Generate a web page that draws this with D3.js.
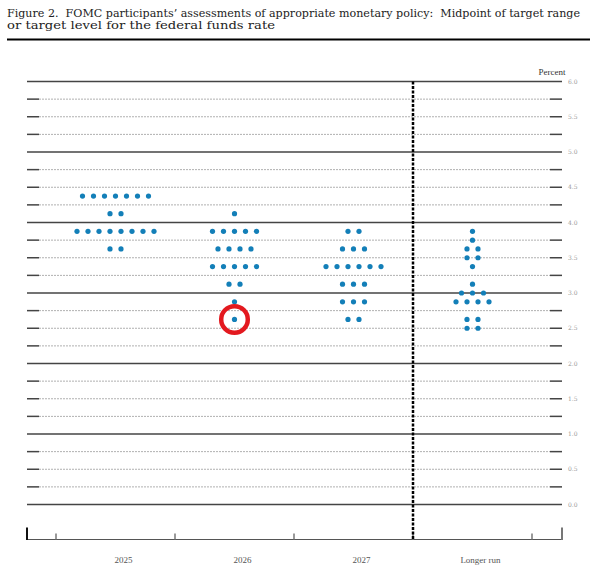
<!DOCTYPE html>
<html>
<head>
<meta charset="utf-8">
<script src="https://cdn.jsdelivr.net/npm/d3@7"></script>
<style>
  body { margin: 0; background: #fff; }
  svg { display: block; }
</style>
</head>
<body>
<div id="chart"></div>
<script>
// Data
const periods = ["2025", "2026", "2027", "Longer run"];
// [midpoint, number of participants]
const dots2025 = [[4.375, 7], [4.125, 2], [3.875, 8], [3.625, 2]];
const dots2026 = [[4.125, 1], [3.875, 5], [3.625, 4], [3.375, 5], [3.125, 2], [2.875, 1], [2.625, 1]];
const dots2027 = [[3.875, 2], [3.625, 3], [3.375, 6], [3.125, 3], [2.875, 3], [2.625, 2]];
const dotsLonger = [[3.875, 1], [3.75, 1], [3.625, 2], [3.5, 2], [3.375, 1], [3.125, 1], [3.0, 3], [2.875, 4], [2.625, 2], [2.5, 2]];
const yTicks = d3.range(0, 6.001, 0.25);
const yLabels = d3.range(0, 6.001, 0.5);
const highlight = { period: "2026", rate: 2.625 };

const titleLines = [
  "Figure 2.  FOMC participants\u2019 assessments of appropriate monetary policy:  Midpoint of target range",
  "or target level for the federal funds rate"
];

const width = 591, height = 580;
const plotLeft = 27, plotRight = 562;
const axisY = 539.5;
const dotGap = 11;

const svg = d3.select("#chart")
  .append("svg")
  .attr("width", width)
  .attr("height", height);

// Title
svg.append("text")
  .attr("x", 7).attr("y", 17)
  .attr("textLength", 573).attr("lengthAdjust", "spacingAndGlyphs")
  .style("font-family", "'DejaVu Serif', serif")
  .style("font-size", "11px")
  .style("white-space", "pre")
  .style("fill", "#222")
  .text(titleLines[0]);
svg.append("text")
  .attr("x", 7).attr("y", 28.5)
  .attr("textLength", 268).attr("lengthAdjust", "spacingAndGlyphs")
  .style("font-family", "'DejaVu Serif', serif")
  .style("font-size", "11px")
  .style("fill", "#222")
  .text(titleLines[1]);

svg.append("line")
  .attr("x1", 7).attr("x2", 590)
  .attr("y1", 39.5).attr("y2", 39.5)
  .style("stroke", "#000")
  .style("stroke-width", 2);

// Scales
const x = d3.scaleBand().domain(periods).range([56, 532]);
const y = d3.scaleLinear().domain([0, 6]).range([504.5, 81.5]);

// Grid
const grid = svg.append("g");
yTicks.forEach(function(v) {
  const yy = y(v);
  const whole = Math.abs(v - Math.round(v)) < 1e-9;
  if (whole) {
    grid.append("line")
      .attr("x1", plotLeft).attr("x2", plotRight)
      .attr("y1", yy).attr("y2", yy)
      .style("stroke", "#444")
      .style("stroke-width", 1.5);
  } else {
    grid.append("line")
      .attr("x1", plotLeft + 12).attr("x2", plotRight - 12)
      .attr("y1", yy).attr("y2", yy)
      .style("stroke", "#b0b0b0")
      .style("stroke-width", 1)
      .style("stroke-dasharray", "2,1");
    [[plotLeft, plotLeft + 12], [plotRight - 12, plotRight]].forEach(function(seg) {
      grid.append("line")
        .attr("x1", seg[0]).attr("x2", seg[1])
        .attr("y1", yy).attr("y2", yy)
        .style("stroke", "#444")
        .style("stroke-width", 1.5);
    });
  }
});

// Right labels
svg.append("g")
  .selectAll("text")
  .data(yLabels)
  .enter()
  .append("text")
  .attr("x", 568)
  .attr("y", function(d) { return y(d); })
  .attr("dy", "0.35em")
  .style("font-family", "'DejaVu Serif', serif")
  .style("font-size", "6px")
  .style("fill", "#999")
  .text(function(d) { return d.toFixed(1); });

svg.append("text")
  .attr("x", 552).attr("y", 75)
  .attr("text-anchor", "middle")
  .style("font-family", "'Liberation Serif', serif")
  .style("font-size", "9px")
  .style("fill", "#333")
  .text("Percent");

// Bottom axis
const axis = svg.append("g");
axis.append("line")
  .attr("x1", plotLeft).attr("x2", plotRight)
  .attr("y1", axisY).attr("y2", axisY)
  .style("stroke", "#555")
  .style("stroke-width", 1.2);
axis.append("line")
  .attr("x1", plotLeft).attr("x2", plotLeft)
  .attr("y1", axisY - 12).attr("y2", axisY + 0.5)
  .style("stroke", "#111")
  .style("stroke-width", 2);
axis.append("line")
  .attr("x1", plotRight).attr("x2", plotRight)
  .attr("y1", axisY - 12).attr("y2", axisY + 0.5)
  .style("stroke", "#777")
  .style("stroke-width", 2);

const boundaries = periods.map(function(p) { return x(p); }).concat([x.range()[1]]);
axis.selectAll(".tick")
  .data(boundaries)
  .enter()
  .append("line")
  .attr("class", "tick")
  .attr("x1", function(d) { return d; })
  .attr("x2", function(d) { return d; })
  .attr("y1", axisY - 6).attr("y2", axisY)
  .style("stroke", "#777")
  .style("stroke-width", 1.5);

axis.selectAll(".label")
  .data(periods)
  .enter()
  .append("text")
  .attr("class", "label")
  .attr("x", function(d) { return x(d) + x.bandwidth() / 2 + 8; })
  .attr("y", 563)
  .attr("text-anchor", "middle")
  .style("font-family", "'Liberation Serif', serif")
  .style("font-size", "9px")
  .style("fill", "#555")
  .text(function(d) { return d; });

// Separator before longer run
svg.append("line")
  .attr("x1", x("Longer run")).attr("x2", x("Longer run"))
  .attr("y1", y(6)).attr("y2", axisY)
  .style("stroke", "#000")
  .style("stroke-width", 2.5)
  .style("stroke-dasharray", "3,1.5");

// Dots
const allDots = [];
[dots2025, dots2026, dots2027, dotsLonger].forEach(function(rows, i) {
  rows.forEach(function(r) {
    for (let k = 0; k < r[1]; k++) {
      allDots.push({ period: periods[i], rate: r[0], offset: k - (r[1] - 1) / 2 });
    }
  });
});

svg.append("g")
  .selectAll("circle")
  .data(allDots)
  .enter()
  .append("circle")
  .attr("cx", function(d) { return x(d.period) + x.bandwidth() / 2 + d.offset * dotGap; })
  .attr("cy", function(d) { return y(d.rate); })
  .attr("r", 2.6)
  .style("fill", "#137fb8");

// Highlight ring
svg.append("circle")
  .attr("cx", x(highlight.period) + x.bandwidth() / 2)
  .attr("cy", y(highlight.rate))
  .attr("r", 13.3)
  .style("fill", "none")
  .style("stroke", "#e3191f")
  .style("stroke-width", 4.5);
</script>
</body>
</html>
